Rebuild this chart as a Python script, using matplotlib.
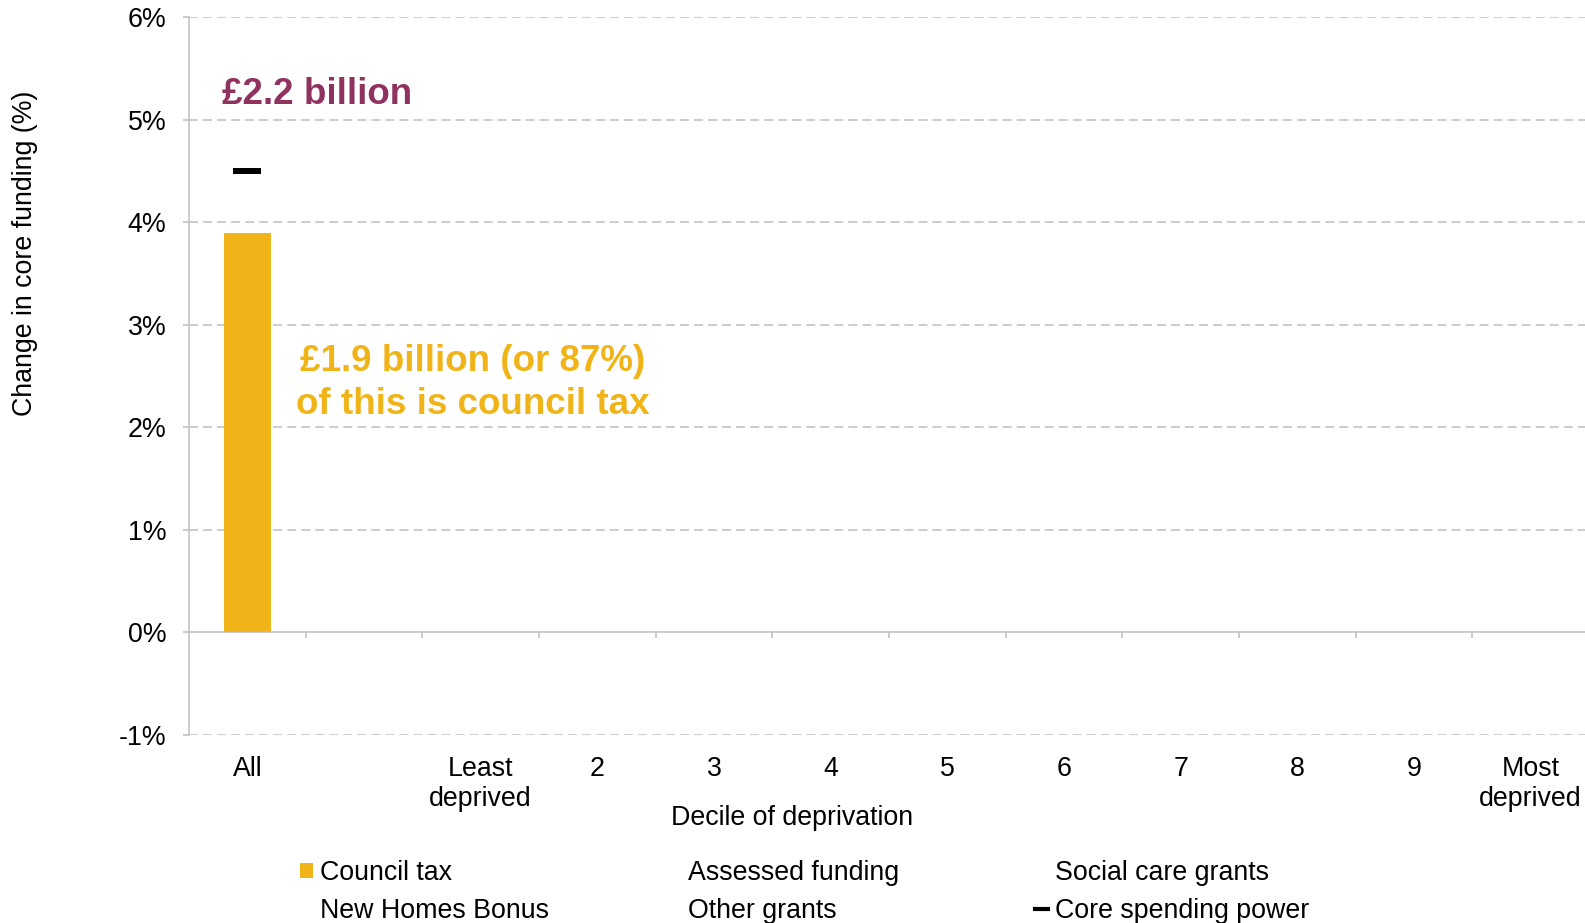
import numpy as np
import matplotlib.pyplot as plt
from matplotlib.patches import Patch
from matplotlib.lines import Line2D
from matplotlib.ticker import FuncFormatter

plt.rcParams['font.family'] = ['Liberation Sans', 'DejaVu Sans']
plt.rcParams['lines.scale_dashes'] = False

# change in core funding (%), by decile of deprivation
categories = ['All', '', 'Least\ndeprived', '2', '3', '4', '5', '6', '7', '8', '9', 'Most\ndeprived']
council_tax = [3.9] + [np.nan] * 11
assessed_funding = [np.nan] * 12
social_care_grants = [np.nan] * 12
new_homes_bonus = [np.nan] * 12
other_grants = [np.nan] * 12
core_spending_power = [4.5] + [np.nan] * 11

total_label = '£2.2 billion'
ct_label = '£1.9 billion (or 87%)\nof this is council tax'

yellow = '#F0B418'
maroon = '#90325F'
grey = '#BFBFBF'
W, H = 1585, 923
fs = 19.3

fig = plt.figure(figsize=(W/100, H/100), dpi=100)
ax = fig.add_axes([189/W, 1-735/H, (1589-189)/W, (735-17.2)/H])

x = np.arange(len(categories))
ax.bar(x, council_tax, width=0.4, color=yellow, zorder=3)
ax.plot(x, core_spending_power, lw=0, marker='_', markersize=19.5,
        markeredgewidth=4.3, color='black', zorder=4)

ax.set_xlim(-0.5, len(categories)-0.5)
ax.set_ylim(-1, 6)

# gridlines
for v in range(-1, 7):
    if v != 0:
        ax.axhline(v, color=grey, lw=1.1, dashes=(6.5, 3.6), zorder=1)

for s in ['top', 'right']:
    ax.spines[s].set_visible(False)
ax.spines['left'].set_color(grey)
ax.spines['left'].set_linewidth(1.1)
ax.spines['bottom'].set_position(('data', 0))
ax.spines['bottom'].set_color(grey)
ax.spines['bottom'].set_linewidth(1.1)
ax.spines['bottom'].set_zorder(2)

ax.set_yticks(range(-1, 7))
ax.yaxis.set_major_formatter(FuncFormatter(lambda v, p: '%d%%' % v))
ax.tick_params(axis='y', length=4.3, width=1.1, color=grey, pad=12, labelsize=fs)

ax.set_xticks(x)
ax.set_xticklabels(categories)
ax.set_xticks(np.arange(0.5, 11, 1.0), minor=True)
ax.tick_params(axis='x', which='major', length=0, pad=89, labelsize=fs)
ax.tick_params(axis='x', which='minor', length=4.3, width=1.1, color=grey)

ax.text(-0.215, 5.25, total_label, color=maroon, fontsize=26.5,
        fontweight='bold', va='center', ha='left')
ax.text(1.935, 2.43, ct_label, color=yellow, fontsize=26.5,
        fontweight='bold', va='center', ha='center', linespacing=1.3)

fig.text(792/W, 1-818/H, 'Decile of deprivation', fontsize=fs,
         ha='center', va='center')
fig.text(25/W, 1-253/H, 'Change in core funding (%)', fontsize=fs,
         ha='center', va='center', rotation=90)

# legend, three columns
blank = Patch(facecolor='none', edgecolor='none')
cols = [
    (300, [(Patch(facecolor=yellow, edgecolor='none'), 'Council tax'),
           (blank, 'New Homes Bonus')]),
    (668, [(blank, 'Assessed funding'), (blank, 'Other grants')]),
    (1035, [(blank, 'Social care grants'),
            (Line2D([], [], color='black', lw=3), 'Core spending power')]),
]
for xpos, entries in cols:
    fig.legend([h for h, _ in entries], [l for _, l in entries],
               loc='center left', bbox_to_anchor=(xpos/W, 1-892/H),
               frameon=False, fontsize=fs, handlelength=0.5, handleheight=0.5,
               handletextpad=0.23, borderpad=0, borderaxespad=0,
               labelspacing=0.45)

fig.savefig('out.png', dpi=100)
